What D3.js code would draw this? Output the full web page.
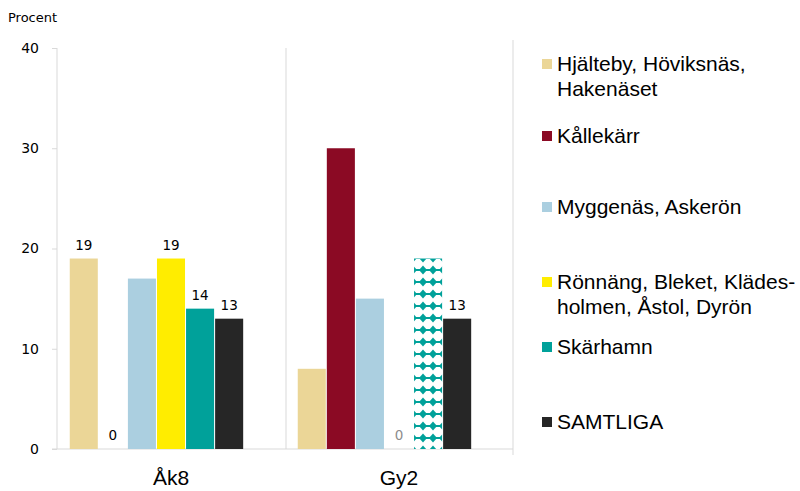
<!DOCTYPE html>
<html>
<head>
<meta charset="utf-8">
<script src="https://cdn.jsdelivr.net/npm/d3@7"></script>
<style>
  body { margin: 0; background: #fff; }
  svg text { font-family: "DejaVu Sans", Verdana, sans-serif; }
</style>
</head>
<body>
<div id="chart"></div>
<script>
// Data
const groups = ["Åk8", "Gy2"];
const series = ["Hjälteby, Höviksnäs, Hakenäset", "Kållekärr", "Myggenäs, Askerön",
                "Rönnäng, Bleket, Klädesholmen, Åstol, Dyrön", "Skärhamn", "SAMTLIGA"];
const valuesAk8 = [19, 0, 17, 19, 14, 13];
const valuesGy2 = [8, 30, 15, 0, 19, 13];
// which bars carry a value label
const labelsAk8 = [true, true, false, true, true, true];
const labelsGy2 = [false, false, false, true, false, true];
const yTicks = [0, 10, 20, 30, 40];
const legendLines = [["Hjälteby, Höviksnäs,", "Hakenäset"], ["Kållekärr"], ["Myggenäs, Askerön"],
                     ["Rönnäng, Bleket, Klädes-", "holmen, Åstol, Dyrön"], ["Skärhamn"], ["SAMTLIGA"]];

const colors = ["#ebd697", "#8b0a24", "#abcfe0", "#ffed00", "#00a19a", "#262626"];

const W = 800, H = 491;
const plotLeft = 57, plotRight = 513, plotTop = 48, plotBottom = 449;
const sansFont = "'Liberation Sans', Arial, sans-serif";

const svg = d3.select("#chart").append("svg")
  .attr("width", W).attr("height", H);

// pattern for the uncertain Skärhamn Gy2 bar
const defs = svg.append("defs");
const pat = defs.append("pattern")
  .attr("id", "dots").attr("patternUnits", "userSpaceOnUse")
  .attr("x", 413).attr("y", 0)
  .attr("width", 10).attr("height", 12);
pat.append("rect").attr("width", 10).attr("height", 12).attr("fill", "#fff");
pat.append("rect").attr("x", 0).attr("y", 5).attr("width", 10).attr("height", 2).attr("fill", "#00a19a");
pat.append("path").attr("d", "M5,1.5 L9,6 L5,10.5 L1,6 Z").attr("fill", "#00a19a");

const y = d3.scaleLinear().domain([0, 40]).range([plotBottom, plotTop]);
const x0 = d3.scaleBand().domain(groups).range([plotLeft, plotRight]);
// 7 slots per group, the last one is empty
const slots = d3.range(7);
const x1 = d3.scaleBand().domain(slots)
  .range([12.75, x0.bandwidth() - 12.75]).paddingInner(0.035);

// axes lines
svg.append("line").attr("x1", plotLeft).attr("x2", plotLeft).attr("y1", plotTop).attr("y2", plotBottom)
  .attr("stroke", "#d9d9d9");
svg.append("line").attr("x1", 286).attr("x2", 286).attr("y1", plotTop).attr("y2", plotBottom)
  .attr("stroke", "#d9d9d9");
svg.append("line").attr("x1", plotRight).attr("x2", plotRight).attr("y1", 40).attr("y2", 455)
  .attr("stroke", "#d9d9d9");

const yAxis = svg.append("g")
  .attr("transform", `translate(${plotLeft},0)`)
  .call(d3.axisLeft(y).tickValues(yTicks).tickSize(5).tickPadding(13));
yAxis.select(".domain").remove();
yAxis.selectAll(".tick line").attr("stroke", "#d9d9d9");
yAxis.selectAll(".tick text").attr("fill", "#000").style("font-size", "14px");

svg.append("line").attr("x1", 52).attr("x2", plotRight).attr("y1", plotBottom).attr("y2", plotBottom)
  .attr("stroke", "#d9d9d9");

svg.append("text").attr("x", 8).attr("y", 22).text("Procent")
  .style("font-size", "13px").attr("fill", "#000");

// bars
const data = [valuesAk8, valuesGy2];
const labs = [labelsAk8, labelsGy2];
groups.forEach((g, gi) => {
  const gg = svg.append("g").attr("transform", `translate(${x0(g)},0)`);
  data[gi].forEach((v, si) => {
    const patterned = gi === 1 && si === 4;
    if (v > 0) {
      gg.append("rect")
        .attr("x", x1(si)).attr("width", x1.bandwidth())
        .attr("y", y(v)).attr("height", y(0) - y(v))
        .attr("fill", patterned ? "url(#dots)" : colors[si]);
    }
    if (labs[gi][si]) {
      gg.append("text")
        .attr("x", x1(si) + x1.bandwidth() / 2)
        .attr("y", y(v) - 9)
        .attr("text-anchor", "middle")
        .style("font-size", "13.5px")
        .attr("fill", gi === 1 && v === 0 ? "#8c8c8c" : "#000")
        .text(v);
    }
  });
  svg.append("text")
    .attr("x", x0(g) + x0.bandwidth() / 2).attr("y", 485)
    .attr("text-anchor", "middle")
    .style("font-size", "21px").style("font-family", sansFont)
    .attr("fill", "#000").text(g);
});

// legend
const legendY = [64, 136, 207, 282, 347, 422];
legendLines.forEach((lines, i) => {
  svg.append("rect").attr("x", 542).attr("y", legendY[i] - 5)
    .attr("width", 10).attr("height", 10).attr("fill", colors[i]);
  const t = svg.append("text")
    .attr("x", 557).attr("y", legendY[i] + 7)
    .style("font-size", "21px").style("font-family", sansFont)
    .attr("fill", "#000");
  lines.forEach((l, li) => {
    t.append("tspan").attr("x", 557).attr("dy", li === 0 ? 0 : 25).text(l);
  });
});
</script>
</body>
</html>
